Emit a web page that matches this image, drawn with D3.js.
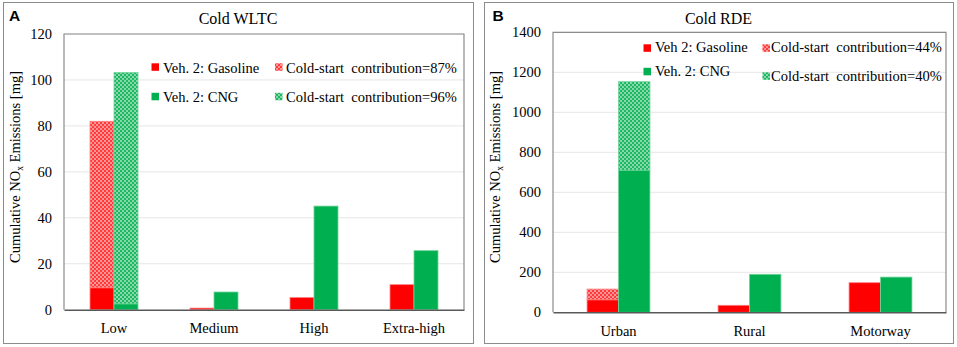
<!DOCTYPE html>
<html><head><meta charset="utf-8">
<script src="https://cdn.jsdelivr.net/npm/d3@7/dist/d3.min.js"></script>
<style>
body{margin:0;background:#fff;}
svg text{font-family:"Times New Roman","Liberation Serif",serif;fill:#000;}
</style></head>
<body><svg id="c" width="957" height="347"></svg>
<script>
// Panel A: Cold WLTC
const catsA = ["Low","Medium","High","Extra-high"];
const gasTotalA = [82, 0.7, 5.3, 10.9];
const gasHotA   = [9.5, 0.7, 5.3, 10.9];
const cngTotalA = [103.2, 7.7, 45.1, 25.7];
const cngHotA   = [2.5, 7.7, 45.1, 25.7];
const ticksA = [0,20,40,60,80,100,120];
// Panel B: Cold RDE
const catsB = ["Urban","Rural","Motorway"];
const gasTotalB = [116, 35, 148];
const gasHotB   = [62, 35, 148];
const cngTotalB = [1153, 190, 176];
const cngHotB   = [710, 190, 176];
const ticksB = [0,200,400,600,800,1000,1200,1400];

const SERIF = '"Times New Roman","Liberation Serif",serif';
const RED="#ff0000", GREEN="#00b050";
const svg = d3.select("#c");
const defs = svg.append("defs");
function pat(id, base, light){
  const p = defs.append("pattern").attr("id",id).attr("patternUnits","userSpaceOnUse")
    .attr("width",4).attr("height",4);
  p.append("rect").attr("width",4).attr("height",4).attr("fill",base);
  p.append("rect").attr("x",0).attr("y",0).attr("width",2).attr("height",2).attr("fill",light);
  p.append("rect").attr("x",2).attr("y",2).attr("width",2).attr("height",2).attr("fill",light);
}
pat("pRed", "#ff3a3a", "#ff9494");
pat("pGreen", "#1cb862", "#86d8aa");

function panel(cfg){
  const g = svg.append("g");
  g.append("rect").attr("x",cfg.box[0]+0.5).attr("y",cfg.box[1]+0.5)
    .attr("width",cfg.box[2]-cfg.box[0]).attr("height",cfg.box[3]-cfg.box[1])
    .attr("fill","#fff").attr("stroke","#8c8c8c").attr("stroke-width",1);
  const [L,T,R,B] = cfg.plot;
  const y = d3.scaleLinear().domain([0, cfg.ymax]).range([B, T]);
  const x = d3.scaleBand().domain(cfg.cats).range([L, R]).padding(0);
  const x1 = d3.scaleBand().domain(["gas","cng"]).range([x.bandwidth()*0.26, x.bandwidth()*0.74]).padding(0);
  g.append("g").selectAll("line").data(cfg.ticks.filter(t=>t>0)).join("line")
    .attr("x1",L).attr("x2",R).attr("y1",d=>y(d)).attr("y2",d=>y(d))
    .attr("stroke","#e6e6e6").attr("stroke-width",1);
  g.append("path").attr("d",`M${L},${B}V${T}H${R}V${B}`).attr("fill","none")
    .attr("stroke","#8c8c8c").attr("stroke-width",1.2);
  const series = [
    {k:"gas", total:cfg.gasTotal, hot:cfg.gasHot, col:RED, p:"url(#pRed)", edge:"#ff8080"},
    {k:"cng", total:cfg.cngTotal, hot:cfg.cngHot, col:GREEN, p:"url(#pGreen)", edge:"#70d49a"}
  ];
  series.forEach(s=>{
    const bg = g.append("g");
    const data = cfg.cats.map((c,i)=>({c, total:s.total[i], hot:s.hot[i]}));
    bg.selectAll("rect.cold").data(data.filter(d=>d.total>d.hot)).join("rect")
      .attr("x",d=>x(d.c)+x1(s.k)).attr("width",x1.bandwidth())
      .attr("y",d=>y(d.total)).attr("height",d=>y(d.hot)-y(d.total))
      .attr("fill",s.p).attr("stroke",s.edge).attr("stroke-width",0.8);
    bg.selectAll("rect.hot").data(data).join("rect")
      .attr("x",d=>x(d.c)+x1(s.k)).attr("width",x1.bandwidth())
      .attr("y",d=>y(d.hot)).attr("height",d=>B-y(d.hot))
      .attr("fill",s.col).attr("stroke",s.edge).attr("stroke-width",0.8);
  });
  const ya = g.append("g").attr("transform",`translate(${L},0)`)
    .call(d3.axisLeft(y).tickValues(cfg.ticks).tickSize(0).tickPadding(12).tickFormat(d3.format("d")));
  ya.attr("font-family",SERIF).attr("font-size",14.5);
  ya.select(".domain").remove();
  const xa = g.append("g").attr("transform",`translate(0,${B})`)
    .call(d3.axisBottom(x).tickSize(0).tickPadding(13));
  xa.attr("font-family",SERIF).attr("font-size",14.5);
  xa.select(".domain").attr("stroke","#595959").attr("stroke-width",1.5);
  g.append("text").attr("x",(cfg.box[0]+cfg.box[2])/2).attr("y",24).attr("text-anchor","middle")
    .attr("font-family",SERIF).attr("font-size",16).text(cfg.title);
  g.append("text").attr("x",cfg.letterX).attr("y",21)
    .style("font-family","'Liberation Sans', Arial, sans-serif")
    .style("font-weight","bold").style("font-size","15.5px").text(cfg.letter);
  const yl = g.append("text").attr("transform",`translate(${cfg.ylabX},${cfg.ylabY}) rotate(-90)`)
    .attr("text-anchor","middle").attr("font-family",SERIF).attr("font-size",14.5);
  yl.append("tspan").text("Cumulative NO");
  yl.append("tspan").attr("dy",3).attr("font-size",9.5).text("x");
  yl.append("tspan").attr("dy",-3).text(" Emissions [mg]");
  cfg.legend.forEach(it=>{
    g.append("rect").attr("x",it.mx).attr("y",it.my-3.7).attr("width",7.5).attr("height",7.5)
      .attr("fill",it.fill);
    g.append("text").attr("x",it.tx).attr("y",it.ty).attr("xml:space","preserve")
      .attr("font-family",SERIF).attr("font-size",14.5)
      .style("white-space","pre").text(it.t);
  });
}

panel({box:[3,2,473,343], plot:[64,34,464,309.7], ymax:120, cats:catsA, ticks:ticksA,
  gasTotal:gasTotalA, gasHot:gasHotA, cngTotal:cngTotalA, cngHot:cngHotA,
  title:"Cold WLTC", letter:"A", letterX:9, ylabX:20, ylabY:167,
  legend:[
    {mx:151.5,my:67,fill:RED,tx:163,ty:72.5,t:"Veh. 2: Gasoline"},
    {mx:275,my:67,fill:"url(#pRed)",tx:286,ty:72.5,t:"Cold-start  contribution=87%"},
    {mx:151.5,my:96.5,fill:GREEN,tx:163,ty:101.5,t:"Veh. 2: CNG"},
    {mx:275,my:96.5,fill:"url(#pGreen)",tx:286,ty:101.5,t:"Cold-start  contribution=96%"}
  ]});
panel({box:[484,2,953,343], plot:[553,32.3,946,312.3], ymax:1400, cats:catsB, ticks:ticksB,
  gasTotal:gasTotalB, gasHot:gasHotB, cngTotal:cngTotalB, cngHot:cngHotB,
  title:"Cold RDE", letter:"B", letterX:492.5, ylabX:500, ylabY:167,
  legend:[
    {mx:643.5,my:48,fill:RED,tx:655,ty:52,t:"Veh 2: Gasoline"},
    {mx:762.5,my:48,fill:"url(#pRed)",tx:771,ty:52,t:"Cold-start  contribution=44%"},
    {mx:643.5,my:71.5,fill:GREEN,tx:655,ty:76,t:"Veh. 2: CNG"},
    {mx:762.5,my:76,fill:"url(#pGreen)",tx:771,ty:80.5,t:"Cold-start  contribution=40%"}
  ]});
</script></body></html>
